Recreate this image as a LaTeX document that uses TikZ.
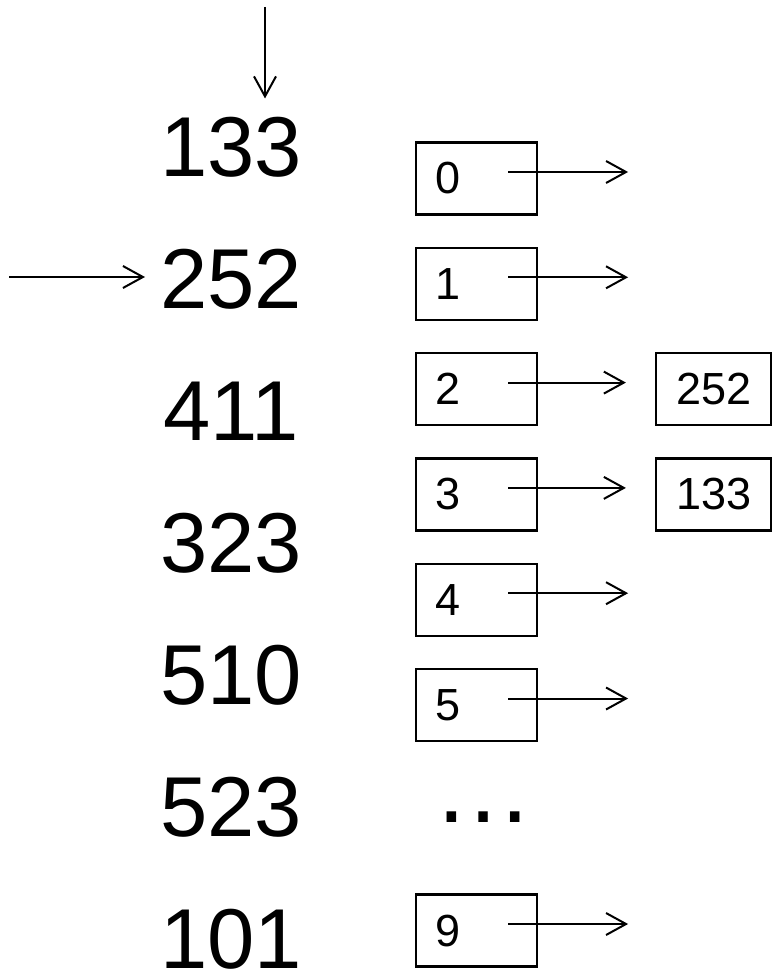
\documentclass[tikz,border=0pt]{standalone}
\usepackage{fontspec}
\setmainfont{Liberation Sans}
\usepackage{tikz}
\usetikzlibrary{arrows.meta, positioning}
\tikzset{
    keynum/.style={font=\fontsize{85}{100}\selectfont, inner sep=0pt, anchor=base west},
    bucket/.style={rectangle, draw=black, line width=2.2pt, minimum height=72pt, text width=83pt, align=left, inner xsep=19pt, inner ysep=0pt, font=\fontsize{45}{54}\selectfont},
    entry/.style={bucket, text width=75pt, inner xsep=20pt},
    ptr/.style={line width=2pt, -{Straight Barb[length=20pt, width=22pt, line width=2pt]}}
}

\begin{document}
\begin{tikzpicture}[x=1pt, y=-1pt, node distance=132pt]
    \useasboundingbox (0,0) rectangle (773,976);

    % Keys to insert
    \node (n133) [keynum] at (160,176.5) {133};
    \node (n252) [keynum, below of=n133] {252};
    \node (n411) [keynum, below of=n252] {411};
    \node (n323) [keynum, below of=n411] {323};
    \node (n510) [keynum, below of=n323] {510};
    \node (n523) [keynum, below of=n510] {523};
    \node (n101) [keynum, below of=n523] {101};

    % Incoming pointers
    \coordinate (feed) at (265,7);
    \coordinate (probe) at (9,277);
    \draw [ptr, shorten >=18.5pt] (feed) -- (feed |- n133.north);
    \draw [ptr, shorten >=15pt] (probe) -- (probe -| n252.west);

    % Buckets
    \node (b0) [bucket] at (476.5,178.5) {0};
    \node (b1) [bucket, below of=b0, node distance=105.3pt] {1};
    \node (b2) [bucket, below of=b1, node distance=105.3pt] {2};
    \node (b3) [bucket, below of=b2, node distance=105.3pt] {3};
    \node (b4) [bucket, below of=b3, node distance=105.3pt] {4};
    \node (b5) [bucket, below of=b4, node distance=105.3pt] {5};
    \node (gap) [inner sep=0pt, font=\fontsize{100}{120}\selectfont] at (483,817) {…};
    \node (b9) [bucket] at (476.5,930.5) {9};

    % Stored entries
    \node (v252) [entry, right of=b2, node distance=237pt] {252};
    \node (v133) [entry, right of=b3, node distance=237pt] {133};

    % Chains
    \draw [ptr] ([xshift=-30pt, yshift=6.5pt]b0.east) -- ++(120,0);
    \draw [ptr] ([xshift=-30pt, yshift=6.5pt]b1.east) -- ++(120,0);
    \draw [ptr] ([xshift=-30pt, yshift=6.5pt]b2.east) -- ([xshift=-29pt, yshift=6.5pt]v252.west);
    \draw [ptr] ([xshift=-30pt, yshift=6.5pt]b3.east) -- ([xshift=-29pt, yshift=6.5pt]v133.west);
    \draw [ptr] ([xshift=-30pt, yshift=6.5pt]b4.east) -- ++(120,0);
    \draw [ptr] ([xshift=-30pt, yshift=6.5pt]b5.east) -- ++(120,0);
    \draw [ptr] ([xshift=-30pt, yshift=6.5pt]b9.east) -- ++(120,0);
\end{tikzpicture}
\end{document}
